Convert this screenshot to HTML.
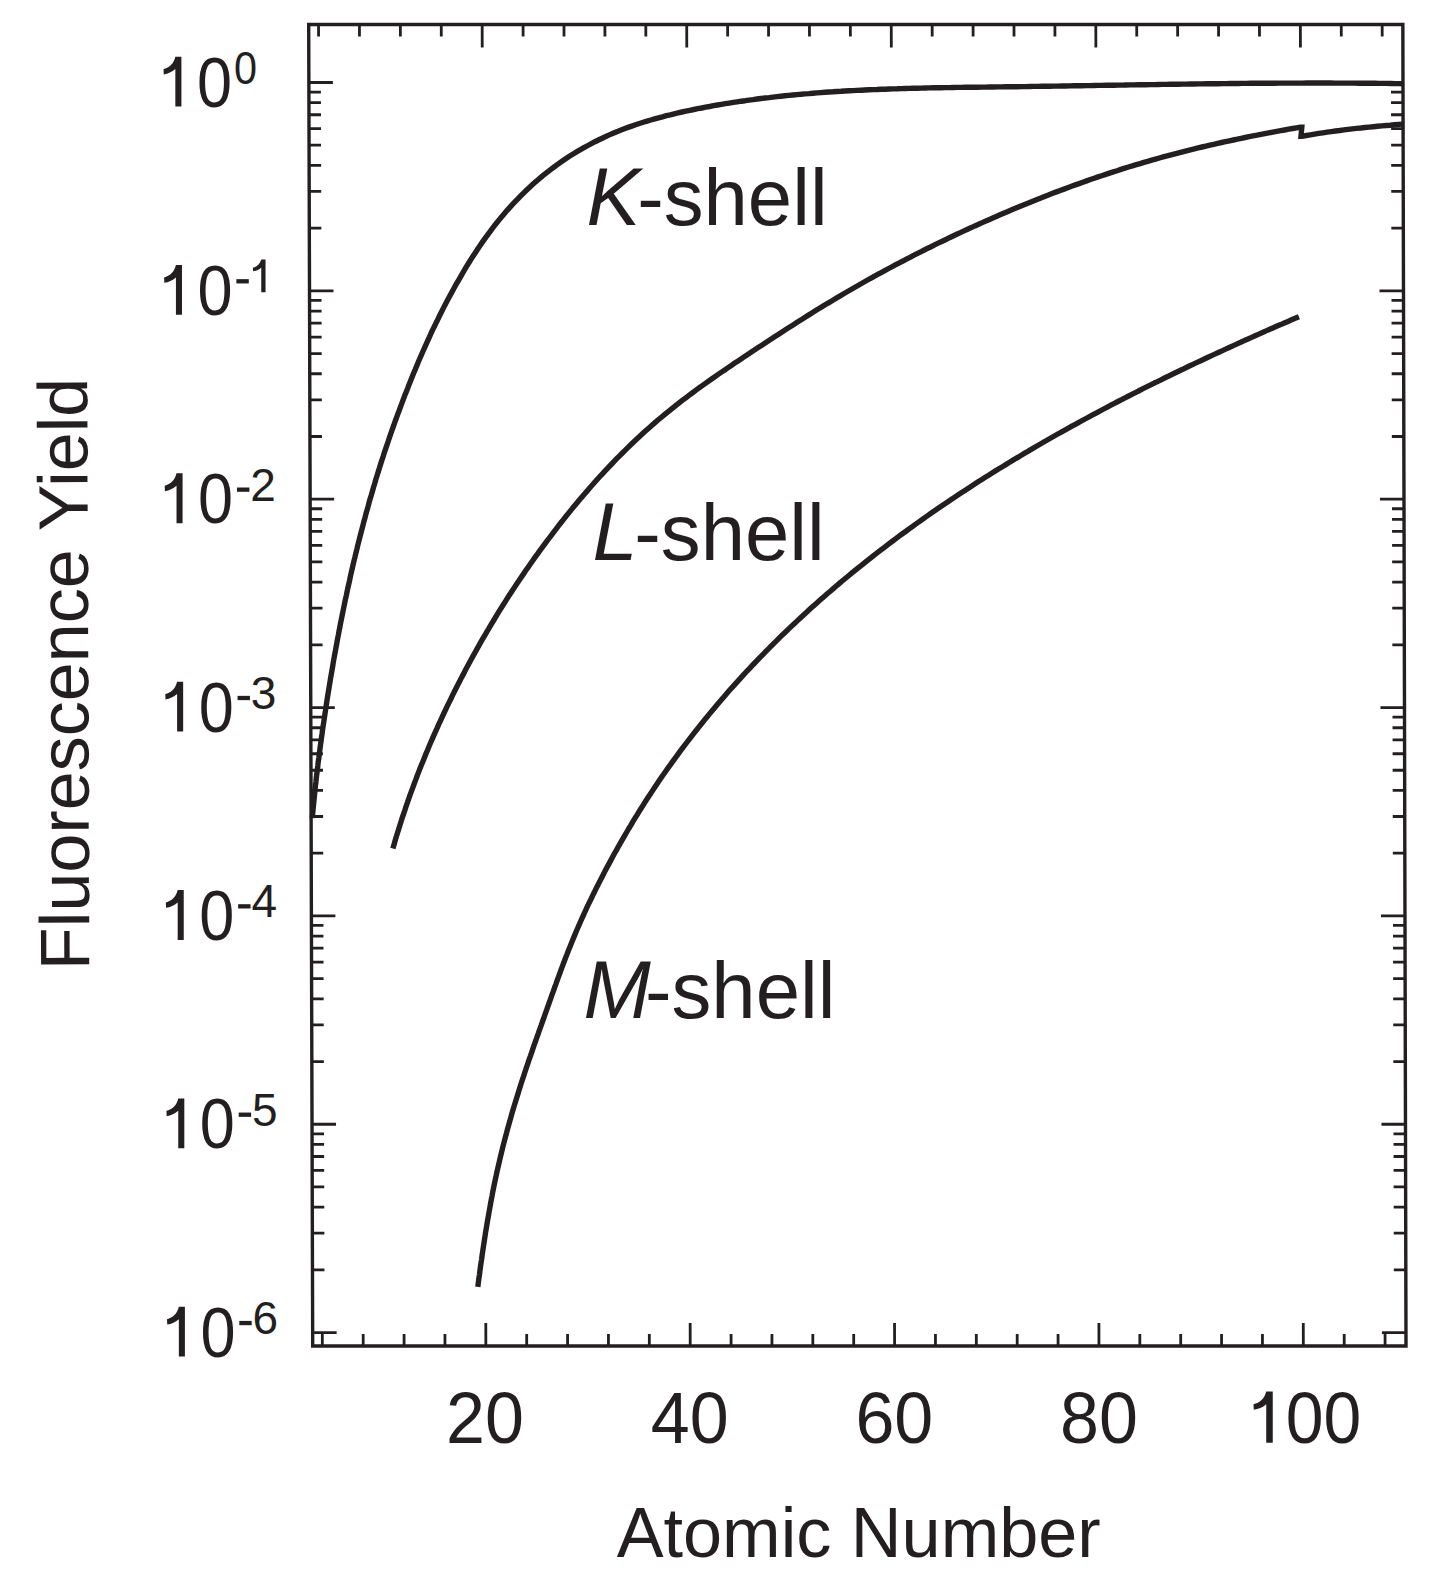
<!DOCTYPE html>
<html><head><meta charset="utf-8"><style>
html,body{margin:0;padding:0;background:#fff;width:1435px;height:1571px;overflow:hidden}
body{position:relative}
</style></head><body>
<svg xmlns="http://www.w3.org/2000/svg" width="1435" height="1571" viewBox="0 0 1435 1571" style="position:absolute;left:0;top:0">
<g stroke="#231f20" fill="none">
<path d="M308.7,24.5 L1402.85,24.5 L1406.0,1346.0 L312.7,1346.0 Z" stroke-width="3.4" stroke-linejoin="miter"/>
<path d="M322.35,1346.0 L322.32,1334.0 M318.53,24.5 L318.57,36.5 M363.23,1346.0 L363.19,1334.0 M359.44,24.5 L359.48,36.5 M404.10,1346.0 L404.07,1334.0 M400.35,24.5 L400.39,36.5 M444.98,1346.0 L444.94,1334.0 M441.26,24.5 L441.29,36.5 M485.85,1346.0 L485.79,1323.0 M482.17,24.5 L482.23,47.5 M526.72,1346.0 L526.69,1334.0 M523.08,24.5 L523.11,36.5 M567.60,1346.0 L567.57,1334.0 M563.99,24.5 L564.02,36.5 M608.47,1346.0 L608.44,1334.0 M604.90,24.5 L604.93,36.5 M649.35,1346.0 L649.32,1334.0 M645.81,24.5 L645.84,36.5 M690.22,1346.0 L690.16,1323.0 M686.72,24.5 L686.78,47.5 M731.10,1346.0 L731.07,1334.0 M727.63,24.5 L727.66,36.5 M771.97,1346.0 L771.94,1334.0 M768.53,24.5 L768.57,36.5 M812.85,1346.0 L812.81,1334.0 M809.44,24.5 L809.48,36.5 M853.72,1346.0 L853.69,1334.0 M850.35,24.5 L850.39,36.5 M894.60,1346.0 L894.53,1323.0 M891.26,24.5 L891.33,47.5 M935.47,1346.0 L935.44,1334.0 M932.17,24.5 L932.20,36.5 M976.35,1346.0 L976.31,1334.0 M973.08,24.5 L973.11,36.5 M1017.22,1346.0 L1017.19,1334.0 M1013.99,24.5 L1014.02,36.5 M1058.10,1346.0 L1058.06,1334.0 M1054.90,24.5 L1054.93,36.5 M1098.97,1346.0 L1098.91,1323.0 M1095.81,24.5 L1095.87,47.5 M1139.85,1346.0 L1139.81,1334.0 M1136.72,24.5 L1136.75,36.5 M1180.72,1346.0 L1180.69,1334.0 M1177.63,24.5 L1177.66,36.5 M1221.60,1346.0 L1221.56,1334.0 M1218.54,24.5 L1218.57,36.5 M1262.47,1346.0 L1262.44,1334.0 M1259.44,24.5 L1259.48,36.5 M1303.35,1346.0 L1303.28,1323.0 M1300.35,24.5 L1300.42,47.5 M1344.22,1346.0 L1344.19,1334.0 M1341.26,24.5 L1341.30,36.5 M1385.10,1346.0 L1385.06,1334.0 M1382.17,24.5 L1382.21,36.5 M308.88,82.50 h24 M1402.99,82.50 h-24 M309.51,290.85 h24 M1403.48,290.85 h-24 M309.32,228.13 h12 M1403.34,228.13 h-12 M309.21,191.44 h12 M1403.25,191.44 h-12 M309.13,165.41 h12 M1403.19,165.41 h-12 M309.07,145.22 h12 M1403.14,145.22 h-12 M309.02,128.72 h12 M1403.10,128.72 h-12 M308.97,114.77 h12 M1403.07,114.77 h-12 M308.94,102.69 h12 M1403.04,102.69 h-12 M308.90,92.03 h12 M1403.01,92.03 h-12 M310.14,499.20 h24 M1403.98,499.20 h-24 M309.95,436.48 h12 M1403.83,436.48 h-12 M309.84,399.79 h12 M1403.74,399.79 h-12 M309.76,373.76 h12 M1403.68,373.76 h-12 M309.70,353.57 h12 M1403.63,353.57 h-12 M309.65,337.07 h12 M1403.60,337.07 h-12 M309.60,323.12 h12 M1403.56,323.12 h-12 M309.57,311.04 h12 M1403.53,311.04 h-12 M309.54,300.38 h12 M1403.51,300.38 h-12 M310.77,707.55 h24 M1404.48,707.55 h-24 M310.58,644.83 h12 M1404.33,644.83 h-12 M310.47,608.14 h12 M1404.24,608.14 h-12 M310.39,582.11 h12 M1404.18,582.11 h-12 M310.33,561.92 h12 M1404.13,561.92 h-12 M310.28,545.42 h12 M1404.09,545.42 h-12 M310.23,531.47 h12 M1404.06,531.47 h-12 M310.20,519.39 h12 M1404.03,519.39 h-12 M310.17,508.73 h12 M1404.00,508.73 h-12 M311.40,915.90 h24 M1404.97,915.90 h-24 M311.21,853.18 h12 M1404.83,853.18 h-12 M311.10,816.49 h12 M1404.74,816.49 h-12 M311.02,790.46 h12 M1404.68,790.46 h-12 M310.96,770.27 h12 M1404.63,770.27 h-12 M310.91,753.77 h12 M1404.59,753.77 h-12 M310.87,739.82 h12 M1404.56,739.82 h-12 M310.83,727.74 h12 M1404.53,727.74 h-12 M310.80,717.08 h12 M1404.50,717.08 h-12 M312.03,1124.25 h24 M1405.47,1124.25 h-24 M311.84,1061.53 h12 M1405.32,1061.53 h-12 M311.73,1024.84 h12 M1405.23,1024.84 h-12 M311.65,998.81 h12 M1405.17,998.81 h-12 M311.59,978.62 h12 M1405.12,978.62 h-12 M311.54,962.12 h12 M1405.08,962.12 h-12 M311.50,948.17 h12 M1405.05,948.17 h-12 M311.46,936.09 h12 M1405.02,936.09 h-12 M311.43,925.43 h12 M1405.00,925.43 h-12 M312.66,1332.60 h24 M1405.97,1332.60 h-24 M312.47,1269.88 h12 M1405.82,1269.88 h-12 M312.36,1233.19 h12 M1405.73,1233.19 h-12 M312.28,1207.16 h12 M1405.67,1207.16 h-12 M312.22,1186.97 h12 M1405.62,1186.97 h-12 M312.17,1170.47 h12 M1405.58,1170.47 h-12 M312.13,1156.52 h12 M1405.55,1156.52 h-12 M312.09,1144.44 h12 M1405.52,1144.44 h-12 M312.06,1133.78 h12 M1405.49,1133.78 h-12" stroke-width="2.8"/>
</g>
<g stroke="#231f20" fill="none" stroke-width="5.4" stroke-linejoin="round">
<path d="M312.3,818.0 L312.6,814.0 L313.0,810.0 L313.4,806.0 L313.8,802.0 L314.2,798.0 L314.6,794.0 L315.0,790.0 L315.4,786.0 L315.9,782.0 L316.3,778.0 L316.8,774.0 L317.3,770.0 L317.8,766.1 L318.2,762.1 L318.8,758.1 L319.3,754.1 L319.8,750.1 L320.3,746.1 L320.9,742.1 L321.4,738.2 L322.0,734.2 L322.5,730.2 L323.1,726.2 L323.7,722.3 L324.3,718.3 L324.9,714.3 L325.5,710.4 L326.1,706.4 L326.7,702.4 L327.3,698.5 L327.9,694.5 L328.6,690.5 L329.2,686.6 L329.9,682.6 L330.5,678.7 L331.2,674.7 L331.9,670.8 L332.6,666.8 L333.2,662.9 L333.9,658.9 L334.6,655.0 L335.4,651.0 L336.1,647.1 L336.8,643.2 L337.5,639.2 L338.3,635.3 L339.0,631.3 L339.8,627.4 L340.5,623.5 L341.3,619.6 L342.1,615.6 L342.9,611.7 L343.7,607.8 L344.5,603.9 L345.3,599.9 L346.2,596.0 L347.0,592.1 L347.8,588.2 L348.7,584.3 L349.6,580.4 L350.4,576.4 L351.3,572.5 L352.2,568.6 L353.1,564.7 L354.0,560.8 L355.0,556.9 L355.9,553.0 L356.9,549.1 L357.8,545.2 L358.8,541.3 L359.8,537.4 L360.8,533.5 L361.8,529.7 L362.8,525.8 L363.8,521.9 L364.9,518.0 L365.9,514.1 L367.0,510.2 L368.1,506.4 L369.1,502.5 L370.2,498.6 L371.4,494.8 L372.5,490.9 L373.6,487.0 L374.8,483.2 L375.9,479.3 L377.1,475.5 L378.3,471.6 L379.5,467.8 L380.7,463.9 L381.9,460.1 L383.2,456.3 L384.4,452.4 L385.7,448.6 L387.0,444.8 L388.3,441.0 L389.6,437.2 L390.9,433.4 L392.2,429.6 L393.6,425.8 L394.9,422.0 L396.3,418.2 L397.7,414.4 L399.1,410.7 L400.5,406.9 L401.9,403.1 L403.3,399.4 L404.7,395.6 L406.2,391.9 L407.7,388.2 L409.1,384.4 L410.6,380.7 L412.1,377.0 L413.6,373.3 L415.2,369.6 L416.7,365.9 L418.2,362.2 L419.8,358.5 L421.4,354.9 L423.0,351.2 L424.6,347.6 L426.3,343.9 L427.9,340.3 L429.6,336.6 L431.2,333.0 L432.9,329.4 L434.7,325.8 L436.4,322.2 L438.2,318.6 L439.9,315.0 L441.7,311.5 L443.5,307.9 L445.4,304.3 L447.2,300.8 L449.1,297.3 L451.0,293.7 L452.9,290.2 L454.8,286.7 L456.8,283.2 L458.8,279.8 L460.8,276.3 L462.8,272.8 L464.8,269.4 L466.9,265.9 L469.0,262.5 L471.1,259.1 L473.3,255.7 L475.5,252.4 L477.7,249.0 L479.9,245.7 L482.2,242.4 L484.5,239.1 L486.9,235.8 L489.3,232.6 L491.7,229.3 L494.1,226.2 L496.6,223.0 L499.1,219.9 L501.7,216.7 L504.3,213.7 L506.9,210.6 L509.6,207.6 L512.3,204.6 L515.1,201.7 L517.9,198.8 L520.7,195.9 L523.5,193.1 L526.4,190.3 L529.4,187.5 L532.3,184.8 L535.3,182.1 L538.4,179.5 L541.4,176.9 L544.5,174.3 L547.7,171.8 L550.9,169.4 L554.1,167.0 L557.3,164.6 L560.6,162.3 L563.9,160.0 L567.2,157.8 L570.6,155.6 L574.0,153.5 L577.4,151.4 L580.9,149.4 L584.4,147.4 L587.9,145.5 L591.4,143.6 L595.0,141.7 L598.5,140.0 L602.2,138.2 L605.8,136.5 L609.4,134.9 L613.1,133.3 L616.8,131.7 L620.5,130.3 L624.3,128.8 L628.0,127.4 L631.8,126.1 L635.6,124.8 L639.4,123.5 L643.2,122.3 L647.0,121.1 L650.9,120.0 L654.7,118.9 L658.6,117.8 L662.5,116.8 L666.4,115.7 L670.3,114.8 L674.2,113.8 L678.1,112.9 L682.0,112.0 L685.9,111.2 L689.9,110.3 L693.8,109.5 L697.7,108.7 L701.7,108.0 L705.6,107.2 L709.6,106.5 L713.5,105.7 L717.5,105.0 L721.4,104.4 L725.4,103.7 L729.3,103.1 L733.3,102.4 L737.2,101.8 L741.2,101.2 L745.2,100.7 L749.1,100.1 L753.1,99.6 L757.1,99.0 L761.0,98.5 L765.0,98.0 L769.0,97.6 L773.0,97.1 L777.0,96.6 L780.9,96.2 L784.9,95.8 L788.9,95.4 L792.9,95.0 L796.9,94.6 L800.9,94.3 L804.9,93.9 L808.9,93.6 L812.9,93.2 L816.9,92.9 L820.9,92.6 L824.9,92.3 L828.9,92.0 L832.9,91.8 L836.9,91.5 L840.9,91.3 L844.9,91.0 L848.9,90.8 L852.9,90.6 L856.9,90.4 L860.9,90.2 L865.0,90.0 L869.0,89.8 L873.0,89.6 L877.0,89.5 L881.0,89.3 L885.0,89.2 L889.0,89.0 L893.1,88.9 L897.1,88.8 L901.1,88.6 L905.1,88.5 L909.1,88.4 L913.2,88.3 L917.2,88.2 L921.2,88.1 L925.2,88.0 L929.3,87.9 L933.3,87.8 L937.3,87.8 L941.3,87.7 L945.3,87.6 L949.4,87.6 L953.4,87.5 L957.4,87.4 L961.4,87.4 L965.5,87.3 L969.5,87.3 L973.5,87.2 L977.5,87.2 L981.6,87.1 L985.6,87.1 L989.6,87.0 L993.6,87.0 L997.6,86.9 L1001.7,86.9 L1005.7,86.8 L1009.7,86.8 L1013.7,86.7 L1017.7,86.7 L1021.8,86.6 L1025.8,86.6 L1029.8,86.5 L1033.8,86.4 L1037.8,86.4 L1041.9,86.3 L1045.9,86.3 L1049.9,86.2 L1053.9,86.1 L1057.9,86.1 L1061.9,86.0 L1065.9,86.0 L1070.0,85.9 L1074.0,85.8 L1078.0,85.8 L1082.0,85.7 L1086.0,85.6 L1090.0,85.6 L1094.0,85.5 L1098.0,85.4 L1102.0,85.4 L1106.1,85.3 L1110.1,85.3 L1114.1,85.2 L1118.1,85.1 L1122.1,85.1 L1126.1,85.0 L1130.1,84.9 L1134.1,84.9 L1138.1,84.8 L1142.1,84.7 L1146.1,84.7 L1150.2,84.6 L1154.2,84.6 L1158.2,84.5 L1162.2,84.4 L1166.2,84.4 L1170.2,84.3 L1174.2,84.3 L1178.2,84.2 L1182.2,84.1 L1186.2,84.1 L1190.2,84.0 L1194.2,84.0 L1198.3,83.9 L1202.3,83.9 L1206.3,83.8 L1210.3,83.8 L1214.3,83.7 L1218.3,83.7 L1222.3,83.6 L1226.3,83.6 L1230.3,83.5 L1234.3,83.5 L1238.3,83.5 L1242.4,83.4 L1246.4,83.4 L1250.4,83.3 L1254.4,83.3 L1258.4,83.3 L1262.4,83.2 L1266.4,83.2 L1270.4,83.2 L1274.4,83.2 L1278.5,83.1 L1282.5,83.1 L1286.5,83.1 L1290.5,83.1 L1294.5,83.1 L1298.5,83.1 L1302.5,83.1 L1306.6,83.0 L1310.6,83.0 L1314.6,83.0 L1318.6,83.0 L1322.6,83.0 L1326.6,83.0 L1330.7,83.0 L1334.7,83.1 L1338.7,83.1 L1342.7,83.1 L1346.7,83.1 L1350.8,83.1 L1354.8,83.1 L1358.8,83.2 L1362.8,83.2 L1366.8,83.2 L1370.9,83.3 L1374.9,83.3 L1378.9,83.4 L1382.9,83.4 L1387.0,83.4 L1391.0,83.5 L1395.0,83.6 L1399.1,83.6 L1403.1,83.7" stroke-linecap="butt"/>
<path d="M477.8,1286.9 L478.3,1283.0 L478.8,1279.0 L479.4,1275.1 L479.9,1271.1 L480.4,1267.2 L481.0,1263.2 L481.6,1259.3 L482.1,1255.3 L482.7,1251.4 L483.3,1247.4 L483.9,1243.5 L484.5,1239.5 L485.1,1235.6 L485.7,1231.7 L486.4,1227.7 L487.0,1223.8 L487.7,1219.8 L488.4,1215.9 L489.1,1211.9 L489.8,1208.0 L490.5,1204.1 L491.2,1200.1 L492.0,1196.2 L492.7,1192.3 L493.5,1188.3 L494.3,1184.4 L495.1,1180.5 L496.0,1176.5 L496.8,1172.6 L497.7,1168.7 L498.6,1164.8 L499.5,1160.9 L500.4,1156.9 L501.4,1153.0 L502.3,1149.1 L503.3,1145.2 L504.3,1141.3 L505.3,1137.4 L506.4,1133.5 L507.4,1129.6 L508.5,1125.7 L509.6,1121.8 L510.7,1117.9 L511.8,1114.0 L512.9,1110.1 L514.1,1106.2 L515.3,1102.4 L516.5,1098.5 L517.7,1094.6 L518.9,1090.8 L520.1,1086.9 L521.3,1083.0 L522.6,1079.2 L523.9,1075.3 L525.1,1071.5 L526.4,1067.6 L527.7,1063.8 L529.0,1059.9 L530.4,1056.1 L531.7,1052.3 L533.0,1048.4 L534.3,1044.6 L535.7,1040.8 L537.0,1037.0 L538.4,1033.2 L539.7,1029.4 L541.1,1025.6 L542.4,1021.8 L543.8,1018.0 L545.1,1014.2 L546.5,1010.4 L547.8,1006.6 L549.2,1002.8 L550.5,999.1 L551.8,995.3 L553.2,991.6 L554.5,987.8 L555.9,984.1 L557.2,980.3 L558.6,976.6 L560.0,972.8 L561.3,969.1 L562.7,965.4 L564.1,961.7 L565.5,958.0 L567.0,954.3 L568.4,950.6 L569.9,946.9 L571.4,943.2 L572.9,939.5 L574.4,935.9 L575.9,932.2 L577.5,928.5 L579.1,924.9 L580.7,921.2 L582.3,917.6 L584.0,914.0 L585.6,910.4 L587.3,906.7 L589.0,903.1 L590.8,899.5 L592.5,895.9 L594.3,892.3 L596.0,888.7 L597.8,885.2 L599.6,881.6 L601.5,878.0 L603.3,874.5 L605.1,870.9 L607.0,867.4 L608.9,863.9 L610.8,860.4 L612.7,856.8 L614.6,853.3 L616.6,849.8 L618.5,846.3 L620.5,842.9 L622.5,839.4 L624.5,835.9 L626.5,832.5 L628.5,829.0 L630.6,825.6 L632.6,822.1 L634.7,818.7 L636.8,815.3 L638.9,811.9 L641.0,808.5 L643.2,805.1 L645.3,801.7 L647.5,798.3 L649.7,795.0 L651.9,791.6 L654.1,788.3 L656.3,785.0 L658.6,781.6 L660.8,778.3 L663.1,775.0 L665.4,771.7 L667.7,768.4 L670.1,765.2 L672.4,761.9 L674.8,758.6 L677.2,755.4 L679.5,752.1 L681.9,748.9 L684.4,745.7 L686.8,742.5 L689.2,739.3 L691.7,736.1 L694.2,732.9 L696.7,729.8 L699.2,726.6 L701.7,723.5 L704.2,720.3 L706.8,717.2 L709.3,714.1 L711.9,711.0 L714.5,707.9 L717.1,704.8 L719.7,701.8 L722.3,698.7 L724.9,695.7 L727.6,692.6 L730.2,689.6 L732.9,686.6 L735.6,683.6 L738.3,680.6 L741.0,677.6 L743.7,674.7 L746.4,671.7 L749.2,668.8 L751.9,665.9 L754.7,663.0 L757.5,660.0 L760.3,657.2 L763.1,654.3 L765.9,651.4 L768.7,648.6 L771.5,645.7 L774.4,642.9 L777.2,640.1 L780.1,637.2 L782.9,634.4 L785.8,631.7 L788.7,628.9 L791.6,626.1 L794.5,623.4 L797.5,620.6 L800.4,617.9 L803.3,615.2 L806.3,612.5 L809.2,609.8 L812.2,607.1 L815.2,604.4 L818.2,601.8 L821.2,599.1 L824.2,596.5 L827.2,593.8 L830.3,591.2 L833.3,588.6 L836.3,586.0 L839.4,583.4 L842.5,580.8 L845.5,578.3 L848.6,575.7 L851.7,573.2 L854.8,570.6 L857.9,568.1 L861.1,565.6 L864.2,563.1 L867.3,560.6 L870.5,558.1 L873.6,555.6 L876.8,553.2 L880.0,550.7 L883.1,548.3 L886.3,545.9 L889.5,543.4 L892.7,541.0 L895.9,538.6 L899.1,536.2 L902.4,533.8 L905.6,531.5 L908.8,529.1 L912.1,526.8 L915.3,524.4 L918.6,522.1 L921.9,519.8 L925.2,517.4 L928.4,515.1 L931.7,512.8 L935.0,510.5 L938.3,508.3 L941.6,506.0 L945.0,503.7 L948.3,501.5 L951.6,499.2 L955.0,497.0 L958.3,494.8 L961.7,492.6 L965.0,490.4 L968.4,488.2 L971.8,486.0 L975.1,483.8 L978.5,481.6 L981.9,479.5 L985.3,477.3 L988.7,475.2 L992.1,473.0 L995.5,470.9 L998.9,468.8 L1002.4,466.7 L1005.8,464.6 L1009.2,462.5 L1012.7,460.4 L1016.1,458.3 L1019.6,456.3 L1023.0,454.2 L1026.5,452.2 L1029.9,450.1 L1033.4,448.1 L1036.9,446.0 L1040.4,444.0 L1043.8,442.0 L1047.3,440.0 L1050.8,438.0 L1054.3,436.0 L1057.8,434.0 L1061.3,432.1 L1064.9,430.1 L1068.4,428.2 L1071.9,426.2 L1075.4,424.3 L1078.9,422.3 L1082.5,420.4 L1086.0,418.5 L1089.5,416.6 L1093.1,414.7 L1096.6,412.8 L1100.2,410.9 L1103.7,409.0 L1107.3,407.1 L1110.9,405.2 L1114.4,403.4 L1118.0,401.5 L1121.6,399.7 L1125.1,397.8 L1128.7,396.0 L1132.3,394.2 L1135.9,392.4 L1139.5,390.5 L1143.0,388.7 L1146.6,386.9 L1150.2,385.1 L1153.8,383.3 L1157.4,381.6 L1161.0,379.8 L1164.6,378.0 L1168.2,376.3 L1171.8,374.5 L1175.4,372.8 L1179.1,371.0 L1182.7,369.3 L1186.3,367.5 L1189.9,365.8 L1193.5,364.1 L1197.1,362.4 L1200.8,360.7 L1204.4,359.0 L1208.0,357.3 L1211.6,355.6 L1215.3,353.9 L1218.9,352.2 L1222.5,350.6 L1226.2,348.9 L1229.8,347.2 L1233.4,345.6 L1237.1,343.9 L1240.7,342.3 L1244.3,340.6 L1248.0,339.0 L1251.6,337.4 L1255.2,335.8 L1258.9,334.1 L1262.5,332.5 L1266.1,330.9 L1269.8,329.3 L1273.4,327.7 L1277.1,326.1 L1280.7,324.6 L1284.3,323.0 L1288.0,321.4 L1291.6,319.8 L1295.2,318.3 L1298.9,316.7" stroke-linecap="butt"/>
<path d="M392.9,848.5 L394.0,844.7 L395.1,840.8 L396.2,837.0 L397.4,833.2 L398.6,829.4 L399.8,825.5 L401.0,821.7 L402.2,817.9 L403.5,814.1 L404.8,810.3 L406.0,806.5 L407.4,802.7 L408.7,798.9 L410.0,795.2 L411.4,791.4 L412.8,787.6 L414.2,783.8 L415.6,780.1 L417.0,776.3 L418.4,772.6 L419.9,768.8 L421.4,765.1 L422.9,761.4 L424.4,757.7 L425.9,753.9 L427.5,750.2 L429.0,746.5 L430.6,742.8 L432.2,739.1 L433.8,735.4 L435.4,731.8 L437.1,728.1 L438.7,724.4 L440.4,720.8 L442.1,717.1 L443.8,713.5 L445.5,709.8 L447.2,706.2 L449.0,702.6 L450.8,699.0 L452.5,695.4 L454.3,691.8 L456.1,688.2 L457.9,684.6 L459.8,681.0 L461.6,677.4 L463.5,673.9 L465.3,670.3 L467.2,666.8 L469.1,663.2 L471.0,659.7 L473.0,656.2 L474.9,652.7 L476.9,649.2 L478.8,645.7 L480.8,642.2 L482.8,638.7 L484.8,635.3 L486.8,631.8 L488.9,628.4 L490.9,624.9 L493.0,621.5 L495.0,618.1 L497.1,614.6 L499.2,611.2 L501.3,607.8 L503.4,604.5 L505.6,601.1 L507.7,597.7 L509.9,594.3 L512.1,591.0 L514.3,587.6 L516.5,584.3 L518.7,581.0 L520.9,577.7 L523.2,574.4 L525.4,571.0 L527.7,567.8 L530.0,564.5 L532.3,561.2 L534.6,557.9 L537.0,554.7 L539.3,551.4 L541.7,548.2 L544.1,544.9 L546.5,541.7 L548.9,538.5 L551.3,535.3 L553.7,532.1 L556.2,528.9 L558.6,525.7 L561.1,522.5 L563.6,519.4 L566.1,516.2 L568.6,513.1 L571.2,509.9 L573.7,506.8 L576.3,503.7 L578.9,500.6 L581.5,497.5 L584.1,494.4 L586.8,491.4 L589.4,488.3 L592.1,485.3 L594.7,482.3 L597.4,479.3 L600.1,476.3 L602.9,473.3 L605.6,470.4 L608.4,467.4 L611.2,464.5 L613.9,461.6 L616.7,458.7 L619.6,455.8 L622.4,453.0 L625.3,450.1 L628.1,447.3 L631.0,444.5 L633.9,441.7 L636.8,439.0 L639.8,436.2 L642.7,433.5 L645.7,430.8 L648.7,428.2 L651.7,425.5 L654.7,422.9 L657.7,420.3 L660.8,417.7 L663.9,415.1 L667.0,412.6 L670.1,410.1 L673.2,407.6 L676.3,405.1 L679.5,402.6 L682.6,400.2 L685.8,397.8 L689.0,395.4 L692.2,393.0 L695.4,390.6 L698.6,388.2 L701.9,385.9 L705.1,383.6 L708.4,381.3 L711.6,379.0 L714.9,376.7 L718.2,374.4 L721.5,372.1 L724.8,369.9 L728.1,367.6 L731.4,365.4 L734.7,363.1 L738.1,360.9 L741.4,358.7 L744.7,356.4 L748.1,354.2 L751.4,352.0 L754.8,349.8 L758.1,347.6 L761.5,345.4 L764.8,343.2 L768.2,341.0 L771.6,338.8 L775.0,336.6 L778.3,334.4 L781.7,332.2 L785.1,330.0 L788.5,327.8 L791.9,325.7 L795.3,323.5 L798.7,321.3 L802.1,319.2 L805.5,317.0 L808.9,314.9 L812.3,312.8 L815.7,310.6 L819.1,308.5 L822.6,306.4 L826.0,304.3 L829.4,302.3 L832.9,300.2 L836.3,298.1 L839.8,296.1 L843.3,294.0 L846.7,292.0 L850.2,290.0 L853.7,288.0 L857.2,286.0 L860.6,284.0 L864.1,282.0 L867.6,280.0 L871.1,278.1 L874.6,276.1 L878.2,274.2 L881.7,272.3 L885.2,270.4 L888.7,268.5 L892.3,266.6 L895.8,264.7 L899.3,262.8 L902.9,261.0 L906.4,259.1 L910.0,257.3 L913.6,255.4 L917.1,253.6 L920.7,251.8 L924.3,250.0 L927.9,248.2 L931.5,246.5 L935.1,244.7 L938.7,242.9 L942.3,241.2 L945.9,239.5 L949.5,237.7 L953.1,236.0 L956.7,234.3 L960.4,232.6 L964.0,230.9 L967.6,229.2 L971.3,227.6 L974.9,225.9 L978.6,224.3 L982.3,222.6 L985.9,221.0 L989.6,219.4 L993.3,217.8 L996.9,216.2 L1000.6,214.6 L1004.3,213.0 L1008.0,211.4 L1011.7,209.8 L1015.4,208.3 L1019.1,206.7 L1022.8,205.2 L1026.6,203.7 L1030.3,202.2 L1034.0,200.7 L1037.7,199.2 L1041.5,197.7 L1045.2,196.2 L1049.0,194.8 L1052.7,193.3 L1056.5,191.9 L1060.2,190.5 L1064.0,189.1 L1067.7,187.7 L1071.5,186.3 L1075.3,184.9 L1079.1,183.6 L1082.9,182.2 L1086.6,180.9 L1090.4,179.5 L1094.2,178.2 L1098.0,176.9 L1101.8,175.7 L1105.7,174.4 L1109.5,173.1 L1113.3,171.9 L1117.1,170.7 L1120.9,169.4 L1124.8,168.2 L1128.6,167.0 L1132.4,165.9 L1136.3,164.7 L1140.1,163.6 L1143.9,162.4 L1147.8,161.3 L1151.7,160.2 L1155.5,159.1 L1159.4,158.0 L1163.2,156.9 L1167.1,155.9 L1171.0,154.8 L1174.9,153.8 L1178.7,152.8 L1182.6,151.8 L1186.5,150.8 L1190.4,149.8 L1194.3,148.9 L1198.2,147.9 L1202.1,147.0 L1206.0,146.1 L1209.9,145.2 L1213.8,144.3 L1217.7,143.4 L1221.6,142.5 L1225.5,141.7 L1229.5,140.8 L1233.4,140.0 L1237.3,139.2 L1241.2,138.3 L1245.2,137.5 L1249.1,136.7 L1253.0,135.9 L1257.0,135.2 L1260.9,134.4 L1264.9,133.6 L1268.8,132.9 L1272.8,132.1 L1276.7,131.4 L1280.7,130.7 L1284.6,130.0 L1288.6,129.2 L1292.6,128.5 L1296.5,127.8 L1300.5,127.1 L1301.8,127.1 L1301.0,136.3 L1302.0,136.3 L1306.2,135.5 L1310.4,134.8 L1314.6,134.1 L1318.7,133.4 L1322.9,132.8 L1327.1,132.2 L1331.3,131.6 L1335.5,131.0 L1339.7,130.5 L1343.9,129.9 L1348.1,129.4 L1352.3,128.9 L1356.6,128.4 L1360.8,128.0 L1365.0,127.5 L1369.2,127.1 L1373.4,126.7 L1377.7,126.3 L1381.9,125.9 L1386.1,125.5 L1390.3,125.2 L1394.5,124.8 L1398.8,124.4 L1403.0,124.1" stroke-linecap="butt" stroke-linejoin="miter"/>
</g>
<g transform="translate(163.50,106.50) scale(0.93,1) translate(-4.90,0)"><path d="M0.345,-0.712 L0.345,0 L0.252,0 L0.252,-0.535 C0.2,-0.49 0.14,-0.468 0.074,-0.458 L0.07,-0.535 C0.16,-0.555 0.225,-0.61 0.252,-0.712 Z" transform="translate(0.00,0.00) scale(70)" fill="#231f20" stroke="none"/></g>
<text transform="translate(214.40,106.50) scale(0.9,1)" x="-19.46" y="0" font-family="'Liberation Sans',sans-serif" font-size="70" fill="#231f20">0</text>
<text transform="translate(245.60,84.00) scale(0.9,1)" x="-12.79" y="0" font-family="'Liberation Sans',sans-serif" font-size="46" fill="#231f20">0</text>
<g transform="translate(164.08,314.85) scale(0.93,1) translate(-4.90,0)"><path d="M0.345,-0.712 L0.345,0 L0.252,0 L0.252,-0.535 C0.2,-0.49 0.14,-0.468 0.074,-0.458 L0.07,-0.535 C0.16,-0.555 0.225,-0.61 0.252,-0.712 Z" transform="translate(0.00,0.00) scale(70)" fill="#231f20" stroke="none"/></g>
<text transform="translate(214.98,314.85) scale(0.9,1)" x="-19.46" y="0" font-family="'Liberation Sans',sans-serif" font-size="70" fill="#231f20">0</text>
<rect x="236.38" y="279.15" width="12.4" height="4.3" fill="#231f20"/>
<path d="M0.345,-0.712 L0.345,0 L0.252,0 L0.252,-0.535 C0.2,-0.49 0.14,-0.468 0.074,-0.458 L0.07,-0.535 C0.16,-0.555 0.225,-0.61 0.252,-0.712 Z" transform="translate(249.66,292.35) scale(46)" fill="#231f20" stroke="none"/>
<g transform="translate(164.67,523.20) scale(0.93,1) translate(-4.90,0)"><path d="M0.345,-0.712 L0.345,0 L0.252,0 L0.252,-0.535 C0.2,-0.49 0.14,-0.468 0.074,-0.458 L0.07,-0.535 C0.16,-0.555 0.225,-0.61 0.252,-0.712 Z" transform="translate(0.00,0.00) scale(70)" fill="#231f20" stroke="none"/></g>
<text transform="translate(215.57,523.20) scale(0.9,1)" x="-19.46" y="0" font-family="'Liberation Sans',sans-serif" font-size="70" fill="#231f20">0</text>
<rect x="236.97" y="487.50" width="12.4" height="4.3" fill="#231f20"/>
<text x="250.24" y="500.70" font-family="'Liberation Sans',sans-serif" font-size="46" fill="#231f20">2</text>
<g transform="translate(165.25,731.55) scale(0.93,1) translate(-4.90,0)"><path d="M0.345,-0.712 L0.345,0 L0.252,0 L0.252,-0.535 C0.2,-0.49 0.14,-0.468 0.074,-0.458 L0.07,-0.535 C0.16,-0.555 0.225,-0.61 0.252,-0.712 Z" transform="translate(0.00,0.00) scale(70)" fill="#231f20" stroke="none"/></g>
<text transform="translate(216.15,731.55) scale(0.9,1)" x="-19.46" y="0" font-family="'Liberation Sans',sans-serif" font-size="70" fill="#231f20">0</text>
<rect x="237.55" y="695.85" width="12.4" height="4.3" fill="#231f20"/>
<text x="250.83" y="709.05" font-family="'Liberation Sans',sans-serif" font-size="46" fill="#231f20">3</text>
<g transform="translate(165.83,939.90) scale(0.93,1) translate(-4.90,0)"><path d="M0.345,-0.712 L0.345,0 L0.252,0 L0.252,-0.535 C0.2,-0.49 0.14,-0.468 0.074,-0.458 L0.07,-0.535 C0.16,-0.555 0.225,-0.61 0.252,-0.712 Z" transform="translate(0.00,0.00) scale(70)" fill="#231f20" stroke="none"/></g>
<text transform="translate(216.73,939.90) scale(0.9,1)" x="-19.46" y="0" font-family="'Liberation Sans',sans-serif" font-size="70" fill="#231f20">0</text>
<rect x="238.13" y="904.20" width="12.4" height="4.3" fill="#231f20"/>
<text x="251.41" y="917.40" font-family="'Liberation Sans',sans-serif" font-size="46" fill="#231f20">4</text>
<g transform="translate(166.42,1148.25) scale(0.93,1) translate(-4.90,0)"><path d="M0.345,-0.712 L0.345,0 L0.252,0 L0.252,-0.535 C0.2,-0.49 0.14,-0.468 0.074,-0.458 L0.07,-0.535 C0.16,-0.555 0.225,-0.61 0.252,-0.712 Z" transform="translate(0.00,0.00) scale(70)" fill="#231f20" stroke="none"/></g>
<text transform="translate(217.32,1148.25) scale(0.9,1)" x="-19.46" y="0" font-family="'Liberation Sans',sans-serif" font-size="70" fill="#231f20">0</text>
<rect x="238.72" y="1112.55" width="12.4" height="4.3" fill="#231f20"/>
<text x="251.99" y="1125.75" font-family="'Liberation Sans',sans-serif" font-size="46" fill="#231f20">5</text>
<g transform="translate(167.00,1356.60) scale(0.93,1) translate(-4.90,0)"><path d="M0.345,-0.712 L0.345,0 L0.252,0 L0.252,-0.535 C0.2,-0.49 0.14,-0.468 0.074,-0.458 L0.07,-0.535 C0.16,-0.555 0.225,-0.61 0.252,-0.712 Z" transform="translate(0.00,0.00) scale(70)" fill="#231f20" stroke="none"/></g>
<text transform="translate(217.90,1356.60) scale(0.9,1)" x="-19.46" y="0" font-family="'Liberation Sans',sans-serif" font-size="70" fill="#231f20">0</text>
<rect x="239.30" y="1320.90" width="12.4" height="4.3" fill="#231f20"/>
<text x="252.58" y="1334.10" font-family="'Liberation Sans',sans-serif" font-size="46" fill="#231f20">6</text>
<g transform="translate(0,1442.8) scale(1,1.03)">
<text x="485.00" y="0" text-anchor="middle" font-family="'Liberation Sans',sans-serif" font-size="70" fill="#231f20">20</text>
<text x="689.80" y="0" text-anchor="middle" font-family="'Liberation Sans',sans-serif" font-size="70" fill="#231f20">40</text>
<text x="894.35" y="0" text-anchor="middle" font-family="'Liberation Sans',sans-serif" font-size="70" fill="#231f20">60</text>
<text x="1099.05" y="0" text-anchor="middle" font-family="'Liberation Sans',sans-serif" font-size="70" fill="#231f20">80</text>
<path d="M0.345,-0.712 L0.345,0 L0.252,0 L0.252,-0.535 C0.2,-0.49 0.14,-0.468 0.074,-0.458 L0.07,-0.535 C0.16,-0.555 0.225,-0.61 0.252,-0.712 Z" transform="translate(1248.60,0.00) scale(70)" fill="#231f20" stroke="none"/>
<text transform="translate(1285.65,0) scale(0.97,1)" x="0" y="0" font-family="'Liberation Sans',sans-serif" font-size="70" fill="#231f20">00</text>
</g>
<text x="616.70" y="1557.3" font-family="'Liberation Sans',sans-serif" font-size="70" fill="#231f20" textLength="484.0" lengthAdjust="spacingAndGlyphs">Atomic Number</text>
<text x="0" y="0" transform="translate(89.3,969.94) rotate(-90.2)" font-family="'Liberation Sans',sans-serif" font-size="70" fill="#231f20" textLength="592.2" lengthAdjust="spacingAndGlyphs">Fluorescence Yield</text>
<text x="586.51" y="224.6" font-family="'Liberation Sans',sans-serif" font-size="80.8" font-style="italic" fill="#231f20">K</text>
<text x="637.16" y="224.6" font-family="'Liberation Sans',sans-serif" font-size="79.7" fill="#231f20">-shell</text>
<text x="592.41" y="559.7" font-family="'Liberation Sans',sans-serif" font-size="80.8" font-style="italic" fill="#231f20">L</text>
<text x="634.26" y="559.7" font-family="'Liberation Sans',sans-serif" font-size="79.7" fill="#231f20">-shell</text>
<text x="583.61" y="1017.5" font-family="'Liberation Sans',sans-serif" font-size="80.8" font-style="italic" fill="#231f20">M</text>
<text x="644.96" y="1017.5" font-family="'Liberation Sans',sans-serif" font-size="79.7" fill="#231f20">-shell</text>
</svg>
</body></html>
